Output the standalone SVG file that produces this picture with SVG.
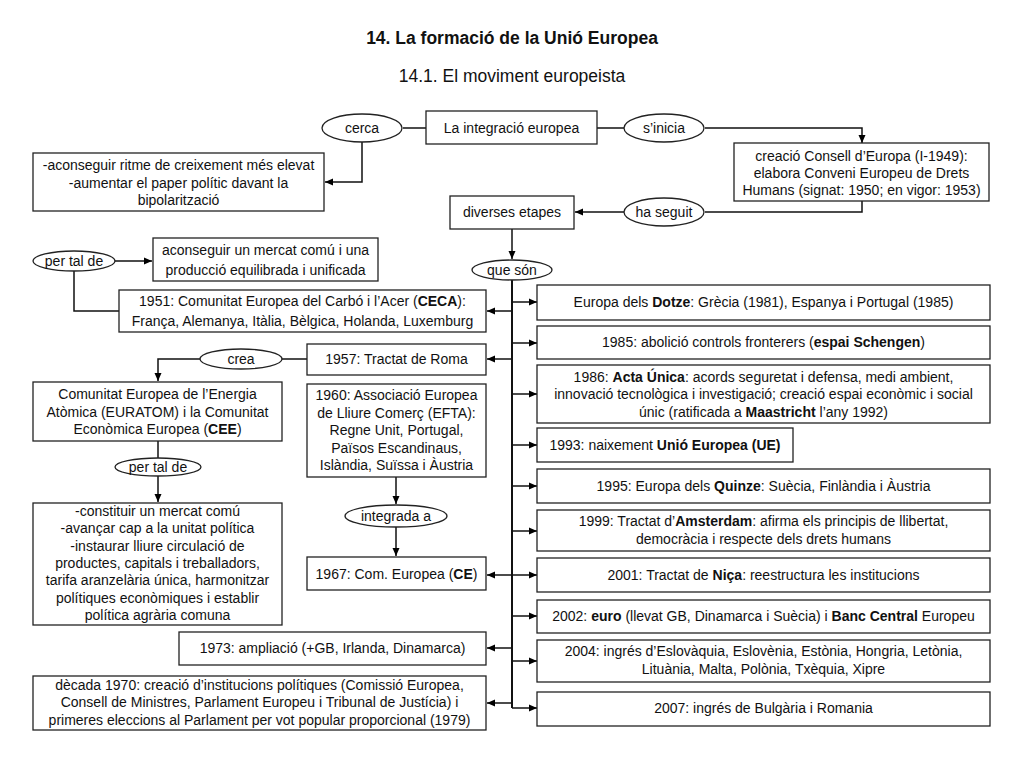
<svg xmlns="http://www.w3.org/2000/svg" width="1024" height="768" viewBox="0 0 1024 768">
<defs>
<marker id="ah" markerUnits="userSpaceOnUse" markerWidth="9" markerHeight="8" refX="8" refY="4" orient="auto">
<path d="M0,0.5 L8,4 L0,7.5 z" fill="#000"/>
</marker>
<style>
rect{fill:#fff;stroke:#222;stroke-width:1.3}
ellipse{fill:#fff;stroke:#222;stroke-width:1.3}
text{font-family:"Liberation Sans",Arial,sans-serif;font-size:14px;fill:#111;text-anchor:middle}
.t1{font-size:17.5px;font-weight:bold}
.t2{font-size:17.5px}
.b{font-weight:bold}
#conn path{fill:none;stroke:#111;stroke-width:1.5}
#conn .arr{marker-end:url(#ah)}
#conn .trunk{stroke-width:2}
</style>
</defs>
<rect x="0" y="0" width="1024" height="768" style="fill:#fff;stroke:none"/>
<text class="t1" x="512" y="44">14. La formació de la Unió Europea</text>
<text class="t2" x="512" y="82">14.1. El moviment europeista</text>

<g id="conn">
<path d="M403,128 H426"/>
<path d="M597,128 H624"/>
<path class="arr" d="M705,128 H862 V143"/>
<path class="arr" d="M362,142 V182 H325"/>
<path d="M862,201 V212 H705"/>
<path class="arr" d="M624,212 H575"/>
<path class="arr" d="M512,229 V259"/>
<path class="trunk" d="M512,280 V708"/>
<path class="arr" d="M512,302 H537"/>
<path class="arr" d="M512,343 H537"/>
<path class="arr" d="M512,394 H537"/>
<path class="arr" d="M512,445 H537"/>
<path class="arr" d="M512,486 H537"/>
<path class="arr" d="M512,531 H537"/>
<path class="arr" d="M512,575 H537"/>
<path class="arr" d="M512,616 H537"/>
<path class="arr" d="M512,661 H537"/>
<path class="arr" d="M512,708 H537"/>
<path class="arr" d="M512,311 H487"/>
<path class="arr" d="M512,359 H487"/>
<path class="arr" d="M512,575 H487"/>
<path class="arr" d="M512,648 H487"/>
<path class="arr" d="M512,703 H487"/>
<path class="arr" d="M115,261 H152"/>
<path d="M74,270 V311 H119"/>
<path d="M282,359 H307"/>
<path class="arr" d="M200,359 H158 V381"/>
<path d="M158,441 V458"/>
<path class="arr" d="M158,476 V502"/>
<path class="arr" d="M396,477 V504"/>
<path class="arr" d="M396,527 V556"/>
</g>

<g id="cerca"><ellipse cx="362" cy="128" rx="40" ry="14"/><text x="362" y="133">cerca</text></g>
<g id="integracio"><rect x="426" y="111" width="171" height="33"/><text x="511.5" y="133">La integració europea</text></g>
<g id="sinicia"><ellipse cx="664" cy="128" rx="40" ry="14"/><text x="664" y="133">s’inicia</text></g>
<g id="consell"><rect x="734" y="143" width="255" height="58"/>
<text x="861.5" y="161">creació Consell d’Europa (I-1949):</text>
<text x="861.5" y="178">elabora Conveni Europeu de Drets</text>
<text x="861.5" y="195">Humans (signat: 1950; en vigor: 1953)</text></g>
<g id="objectius1"><rect x="33" y="153" width="291" height="58"/>
<text x="178.5" y="170">-aconseguir ritme de creixement més elevat</text>
<text x="178.5" y="188">-aumentar el paper polític davant la</text>
<text x="178.5" y="205">bipolarització</text></g>
<g id="haseguit"><ellipse cx="664" cy="212" rx="40" ry="14"/><text x="664" y="217">ha seguit</text></g>
<g id="etapes"><rect x="450" y="196" width="124" height="33"/><text x="512" y="217">diverses etapes</text></g>
<g id="queson"><ellipse cx="512" cy="270" rx="40" ry="10"/><text x="512" y="275">que són</text></g>
<g id="pertalde1"><ellipse cx="74" cy="261" rx="41" ry="10"/><text x="74" y="266">per tal de</text></g>
<g id="mercat"><rect x="153" y="238" width="225" height="43"/>
<text x="265.5" y="255">aconseguir un mercat comú i una</text>
<text x="265.5" y="275">producció equilibrada i unificada</text></g>
<g id="ceca"><rect x="119" y="290" width="367" height="42"/>
<text x="302.5" y="306">1951: Comunitat Europea del Carbó i l’Acer (<tspan class="b">CECA</tspan>):</text>
<text x="302.5" y="326">França, Alemanya, Itàlia, Bèlgica, Holanda, Luxemburg</text></g>
<g id="roma"><rect x="307" y="344" width="179" height="31"/><text x="396.5" y="364">1957: Tractat de Roma</text></g>
<g id="crea"><ellipse cx="241" cy="359" rx="41" ry="10"/><text x="241" y="364">crea</text></g>
<g id="euratom"><rect x="33" y="382" width="249" height="59"/>
<text x="157.5" y="399">Comunitat Europea de l’Energia</text>
<text x="157.5" y="417">Atòmica (EURATOM) i la Comunitat</text>
<text x="157.5" y="434">Econòmica Europea (<tspan class="b">CEE</tspan>)</text></g>
<g id="pertalde2"><ellipse cx="158" cy="467" rx="43" ry="9"/><text x="158" y="472">per tal de</text></g>
<g id="objectius2"><rect x="33" y="503" width="249" height="122"/>
<text x="157.5" y="516">-constituir un mercat comú</text>
<text x="157.5" y="533">-avançar cap a la unitat política</text>
<text x="157.5" y="551">-instaurar lliure circulació de</text>
<text x="157.5" y="568">productes, capitals i treballadors,</text>
<text x="157.5" y="585">tarifa aranzelària única, harmonitzar</text>
<text x="157.5" y="603">polítiques econòmiques i establir</text>
<text x="157.5" y="620">política agrària comuna</text></g>
<g id="efta"><rect x="307" y="384" width="179" height="93"/>
<text x="396.5" y="400">1960: Associació Europea</text>
<text x="396.5" y="418">de Lliure Comerç (EFTA):</text>
<text x="396.5" y="435">Regne Unit, Portugal,</text>
<text x="396.5" y="453">Països Escandinaus,</text>
<text x="396.5" y="470">Islàndia, Suïssa i Àustria</text></g>
<g id="integrada"><ellipse cx="396" cy="516" rx="51" ry="11"/><text x="396" y="521">integrada a</text></g>
<g id="ce"><rect x="307" y="557" width="179" height="33"/><text x="396.5" y="579">1967: Com. Europea (<tspan class="b">CE</tspan>)</text></g>
<g id="amp1973"><rect x="179" y="632" width="307" height="33"/><text x="332.5" y="653">1973: ampliació (+GB, Irlanda, Dinamarca)</text></g>
<g id="dec1970"><rect x="33" y="676" width="453" height="54"/>
<text x="259.5" y="690">dècada 1970: creació d’institucions polítiques (Comissió Europea,</text>
<text x="259.5" y="707">Consell de Ministres, Parlament Europeu i Tribunal de Justícia) i</text>
<text x="259.5" y="725">primeres eleccions al Parlament per vot popular proporcional (1979)</text></g>

<g id="dotze"><rect x="537" y="285" width="453" height="35"/><text x="763.5" y="307">Europa dels <tspan class="b">Dotze</tspan>: Grècia (1981), Espanya i Portugal (1985)</text></g>
<g id="schengen"><rect x="537" y="326" width="453" height="33"/><text x="763.5" y="347">1985: abolició controls fronterers (<tspan class="b">espai Schengen</tspan>)</text></g>
<g id="acta"><rect x="537" y="365" width="453" height="58"/>
<text x="763.5" y="382">1986: <tspan class="b">Acta Única</tspan>: acords seguretat i defensa, medi ambient,</text>
<text x="763.5" y="399">innovació tecnològica i investigació; creació espai econòmic i social</text>
<text x="763.5" y="417">únic (ratificada a <tspan class="b">Maastricht</tspan> l’any 1992)</text></g>
<g id="ue"><rect x="537" y="428" width="256" height="34"/><text x="665" y="450">1993: naixement <tspan class="b">Unió Europea (UE)</tspan></text></g>
<g id="quinze"><rect x="537" y="469" width="453" height="34"/><text x="763.5" y="491">1995: Europa dels <tspan class="b">Quinze</tspan>: Suècia, Finlàndia i Àustria</text></g>
<g id="amsterdam"><rect x="537" y="510" width="453" height="41"/>
<text x="763.5" y="526">1999: Tractat d’<tspan class="b">Amsterdam</tspan>: afirma els principis de llibertat,</text>
<text x="763.5" y="544">democràcia i respecte dels drets humans</text></g>
<g id="nica"><rect x="537" y="558" width="453" height="34"/><text x="763.5" y="580">2001: Tractat de <tspan class="b">Niça</tspan>: reestructura les institucions</text></g>
<g id="euro"><rect x="537" y="600" width="453" height="33"/><text x="763.5" y="621">2002: <tspan class="b">euro</tspan> (llevat GB, Dinamarca i Suècia) i <tspan class="b">Banc Central</tspan> Europeu</text></g>
<g id="ingres2004"><rect x="537" y="640" width="453" height="42"/>
<text x="763.5" y="656">2004: ingrés d’Eslovàquia, Eslovènia, Estònia, Hongria, Letònia,</text>
<text x="763.5" y="674">Lituània, Malta, Polònia, Txèquia, Xipre</text></g>
<g id="ingres2007"><rect x="537" y="692" width="453" height="34"/><text x="763.5" y="713">2007: ingrés de Bulgària i Romania</text></g>
</svg>
